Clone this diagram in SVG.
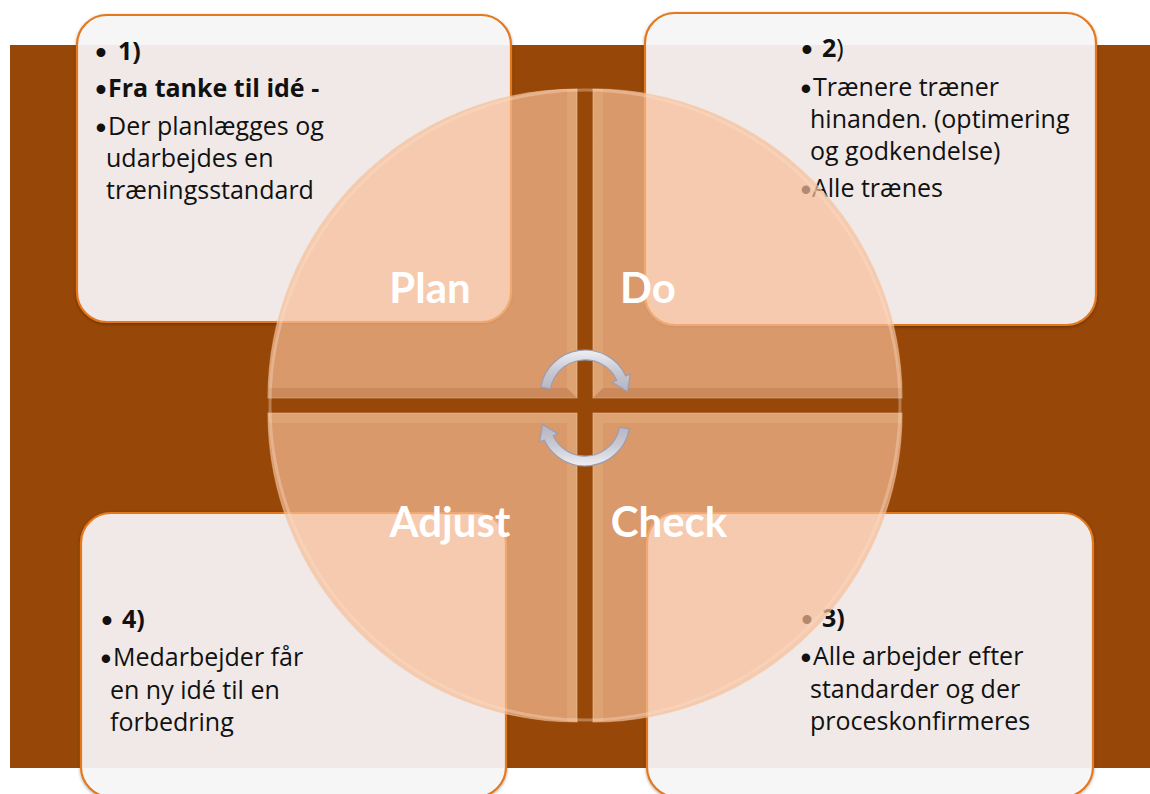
<svg xmlns="http://www.w3.org/2000/svg" width="1150" height="794" viewBox="0 0 1150 794">
<style>
.box{fill:#faf8fb;fill-opacity:0.9;stroke:#e3781f;stroke-width:2.2}
.t{font-family:"Open Sans","Noto Sans","Liberation Sans",sans-serif;font-size:25px;fill:#111}
.bu{font-family:"Liberation Sans",Arial,sans-serif;font-size:31px;fill:#111}
.b{font-weight:bold}
.q{fill:#f6bc95;fill-opacity:0.7;stroke:#f3c9a5;stroke-opacity:0.5;stroke-width:1.2}
.lt{fill:#e5bd88;fill-opacity:0.3}
.dk{fill:#a9683c;fill-opacity:0.3}
.lab{font-family:Lato,"Open Sans","Liberation Sans",sans-serif;font-size:42px;font-weight:bold;fill:#ffffff}
.arr{stroke:#9c9cab;stroke-width:1.2}
</style>
<defs>
<filter id="sh" x="-5%" y="-5%" width="110%" height="110%">
<feDropShadow dx="0" dy="1" stdDeviation="1.5" flood-color="#000" flood-opacity="0.35"/>
</filter>
<linearGradient id="ag" x1="0" y1="0" x2="0" y2="1">
<stop offset="0" stop-color="#eeeef4"/>
<stop offset="0.5" stop-color="#c9c9d4"/>
<stop offset="1" stop-color="#b4b4c2"/>
</linearGradient>
<clipPath id="cP"><path d="M577 398 L268 398 A309 309 0 0 1 577 89 Z"/></clipPath>
<clipPath id="cD"><path d="M593 398 L593 89 A309 309 0 0 1 902 398 Z"/></clipPath>
<clipPath id="cC"><path d="M593 413 L902 413 A309 309 0 0 1 593 722 Z"/></clipPath>
<clipPath id="cA"><path d="M577 413 L577 722 A309 309 0 0 1 268 413 Z"/></clipPath>
</defs>
<rect x="10" y="45" width="1140" height="723" fill="#974707"/>

<g id="box1">
<rect class="box" x="77" y="15" width="434" height="307" rx="30" filter="url(#sh)"/>
<text class="bu b" x="101" y="63" text-anchor="middle">•</text><text class="t b" x="118" y="60">1)</text>
<text class="bu b" x="101" y="100" text-anchor="middle">•</text><text class="t b" x="108" y="97">Fra tanke til idé -</text>
<text class="bu" x="101" y="138" text-anchor="middle">•</text><text class="t" x="108" y="135">Der planlægges og</text>
<text class="t" x="106" y="167">udarbejdes en</text>
<text class="t" x="106" y="199">træningsstandard</text>
</g>
<g id="box2">
<rect class="box" x="645" y="13" width="451" height="312" rx="30" filter="url(#sh)"/>
<text class="bu b" x="807" y="60" text-anchor="middle">•</text><text class="t" x="822" y="57"><tspan class="b">2</tspan>)</text>
<text class="bu" x="806" y="99" text-anchor="middle">•</text><text class="t" x="813" y="96">Trænere træner</text>
<text class="t" x="810" y="128">hinanden. (optimering</text>
<text class="t" x="810" y="160">og godkendelse)</text>
<text class="bu" x="806" y="200" text-anchor="middle">•</text><text class="t" x="812" y="197">Alle trænes</text>
</g>
<g id="box3">
<rect class="box" x="647" y="513" width="446" height="284" rx="30" filter="url(#sh)"/>
<text class="bu b" x="807" y="630" text-anchor="middle">•</text><text class="t b" x="822" y="627">3)</text>
<text class="bu" x="806" y="668" text-anchor="middle">•</text><text class="t" x="813" y="665">Alle arbejder efter</text>
<text class="t" x="810" y="698">standarder og der</text>
<text class="t" x="810" y="730">proceskonfirmeres</text>
</g>
<g id="box4">
<rect class="box" x="81" y="513" width="425" height="284" rx="30" filter="url(#sh)"/>
<text class="bu b" x="107" y="631" text-anchor="middle">•</text><text class="t b" x="122" y="628">4)</text>
<text class="bu" x="106" y="669" text-anchor="middle">•</text><text class="t" x="113" y="666">Medarbejder får</text>
<text class="t" x="110" y="699">en ny idé til en</text>
<text class="t" x="110" y="731">forbedring</text>
</g>

<g id="plan">
<path class="q" d="M577 398 L268 398 A309 309 0 0 1 577 89 Z"/>
<g clip-path="url(#cP)">
<polygon class="dk" points="260,388 567,388 577,398 260,398"/>
<polygon class="lt" points="567,80 577,80 577,398 567,388"/>
</g>
<text class="lab" x="430" y="303" text-anchor="middle">Plan</text>
</g>
<g id="do">
<path class="q" d="M593 398 L593 89 A309 309 0 0 1 902 398 Z"/>
<g clip-path="url(#cD)">
<polygon class="dk" points="603,388 910,388 910,398 593,398"/>
<polygon class="lt" points="593,80 603,80 603,388 593,398"/>
</g>
<text class="lab" x="648" y="303" text-anchor="middle">Do</text>
</g>
<g id="check">
<path class="q" d="M593 413 L902 413 A309 309 0 0 1 593 722 Z"/>
<g clip-path="url(#cC)">
<polygon class="lt" points="593,413 910,413 910,423 603,423"/>
<polygon class="lt" points="593,413 603,423 603,730 593,730"/>
</g>
<text class="lab" x="669" y="537" text-anchor="middle">Check</text>
</g>
<g id="adjust">
<path class="q" d="M577 413 L577 722 A309 309 0 0 1 268 413 Z"/>
<g clip-path="url(#cA)">
<polygon class="lt" points="260,413 577,413 567,423 260,423"/>
<polygon class="lt" points="567,423 577,413 577,730 567,730"/>
</g>
<text class="lab" x="450" y="537" text-anchor="middle">Adjust</text>
</g>
<circle cx="585" cy="405" r="315" fill="none" stroke="#fde3cc" stroke-opacity="0.35" stroke-width="3"/>

<g id="connectors">
<path class="arr" fill="url(#ag)" d="M540.7 387.2 A45 45 0 0 1 625.8 376 L630.3 373.9 L627.6 391.7 L612.2 382.3 L616.7 380.2 A35 35 0 0 0 550.5 388.9 Z"/>
<path class="arr" fill="url(#ag)" transform="rotate(180 585 408)" d="M540.7 387.2 A45 45 0 0 1 625.8 376 L630.3 373.9 L627.6 391.7 L612.2 382.3 L616.7 380.2 A35 35 0 0 0 550.5 388.9 Z"/>
</g>
</svg>
